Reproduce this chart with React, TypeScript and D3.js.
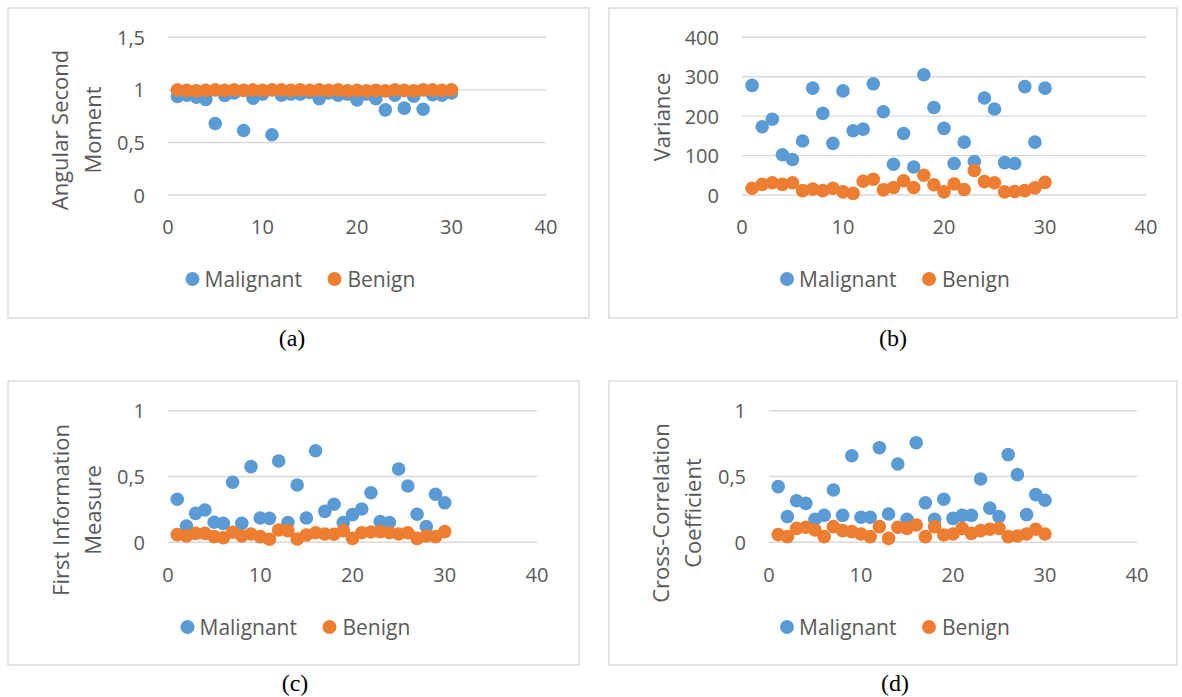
import React from "react";
import * as d3 from "d3";

// ---------- DATA ----------
const xValues = d3.range(1, 31);
const xTicks = [0, 10, 20, 30, 40];
const seriesNames = ["Malignant", "Benign"];

const asmMalignant = [0.937, 0.95, 0.93, 0.91, 0.68, 0.946, 0.97, 0.614, 0.92, 0.96, 0.573, 0.95, 0.96, 0.96, 0.975, 0.915, 0.97, 0.95, 0.96, 0.905, 0.96, 0.915, 0.81, 0.95, 0.826, 0.94, 0.816, 0.955, 0.95, 0.97];
const asmBenign = [1.0, 0.995, 0.99, 0.995, 1.0, 0.995, 1.0, 0.995, 1.0, 0.995, 1.0, 1.0, 0.995, 1.0, 0.995, 1.0, 0.995, 1.0, 0.99, 0.995, 0.99, 0.995, 0.99, 1.0, 0.995, 0.99, 1.0, 1.0, 0.995, 1.0];

const varMalignant = [278, 173, 192, 102, 90, 137, 271, 207, 131, 264, 163, 167, 282, 211, 78, 156, 71, 305, 222, 169, 80, 134, 85, 246, 218, 82, 80, 275, 134, 271];
const varBenign = [17, 27, 31, 27, 31, 11, 15, 11, 17, 8, 4, 35, 40, 13, 19, 36, 19, 50, 26, 8, 28, 14, 62, 34, 31, 8, 9, 11, 18, 32];

const fimMalignant = [0.327, 0.124, 0.22, 0.245, 0.152, 0.144, 0.456, 0.144, 0.575, 0.185, 0.182, 0.618, 0.15, 0.435, 0.185, 0.696, 0.235, 0.289, 0.15, 0.21, 0.253, 0.377, 0.157, 0.15, 0.557, 0.428, 0.213, 0.119, 0.365, 0.3];
const fimBenign = [0.058, 0.048, 0.068, 0.068, 0.043, 0.035, 0.076, 0.048, 0.063, 0.043, 0.023, 0.094, 0.089, 0.025, 0.056, 0.073, 0.063, 0.061, 0.089, 0.03, 0.073, 0.078, 0.081, 0.073, 0.063, 0.073, 0.03, 0.048, 0.043, 0.081];

const cccMalignant = [0.423, 0.195, 0.316, 0.296, 0.175, 0.205, 0.397, 0.205, 0.658, 0.19, 0.19, 0.719, 0.215, 0.595, 0.175, 0.757, 0.3, 0.175, 0.327, 0.182, 0.205, 0.205, 0.481, 0.26, 0.195, 0.666, 0.514, 0.21, 0.362, 0.32];
const cccBenign = [0.058, 0.043, 0.106, 0.114, 0.094, 0.043, 0.119, 0.089, 0.081, 0.063, 0.043, 0.119, 0.03, 0.114, 0.106, 0.132, 0.043, 0.119, 0.056, 0.063, 0.106, 0.068, 0.089, 0.099, 0.106, 0.043, 0.048, 0.063, 0.099, 0.063];

const yTicksA = [0, 0.5, 1, 1.5];
const yLabelsA = ["0", "0,5", "1", "1,5"];
const yTicksB = [0, 100, 200, 300, 400];
const yLabelsB = ["0", "100", "200", "300", "400"];
const yTicksCD = [0, 0.5, 1];
const yLabelsCD = ["0", "0,5", "1"];

// ---------- STYLE / LAYOUT ----------
const BLUE = "#5B9BD5";
const ORANGE = "#ED7D31";
const GRID = "#D9D9D9";
const TEXT = "#595959";
const FONT = "'Open Sans', sans-serif";

const panels = [
  {
    key: "a", mal: asmMalignant, ben: asmBenign, yDomain: [0, 1.5], yTicks: yTicksA, yLabels: yLabelsA,
    box: [8, 8, 589, 318], x0: 168, x1: 546, yTop: 37.3, yBot: 195,
    title: ["Angular Second", "Moment"], titleX: [59, 92], titleY: 130,
    xLabelY: 226, legendY: 279, caption: "(a)", capX: 292, capY: 338,
  },
  {
    key: "b", mal: varMalignant, ben: varBenign, yDomain: [0, 400], yTicks: yTicksB, yLabels: yLabelsB,
    box: [609, 8, 1177, 318], x0: 742, x1: 1146, yTop: 37.3, yBot: 195,
    title: ["Variance"], titleX: [661], titleY: 117,
    xLabelY: 226, legendY: 279, caption: "(b)", capX: 893, capY: 338,
  },
  {
    key: "c", mal: fimMalignant, ben: fimBenign, yDomain: [0, 1], yTicks: yTicksCD, yLabels: yLabelsCD,
    box: [8, 381, 579, 665], x0: 168, x1: 537, yTop: 410.7, yBot: 542.3,
    title: ["First Information", "Measure"], titleX: [60, 92], titleY: 510,
    xLabelY: 574, legendY: 627, caption: "(c)", capX: 295, capY: 683,
  },
  {
    key: "d", mal: cccMalignant, ben: cccBenign, yDomain: [0, 1], yTicks: yTicksCD, yLabels: yLabelsCD,
    box: [609, 381, 1177, 665], x0: 769, x1: 1137, yTop: 410.7, yBot: 542.3,
    title: ["Cross-Correlation", "Coefficient"], titleX: [660, 692], titleY: 513,
    xLabelY: 574, legendY: 627, caption: "(d)", capX: 895, capY: 683,
  },
];

const R = 6.8;

function Panel({ p }: { p: any }) {
  const x = d3.scaleLinear().domain([0, 40]).range([p.x0, p.x1]);
  const y = d3.scaleLinear().domain(p.yDomain).range([p.yBot, p.yTop]);
  const [bl, bt, br, bb] = p.box;
  const cx = (bl + br) / 2;
  const lx = cx - 106;
  return (
    <g>
      <rect x={bl} y={bt} width={br - bl} height={bb - bt} fill="#fff" stroke={GRID} strokeWidth={1.4} />
      {p.yTicks.map((t: number, i: number) => (
        <g key={"yt" + i}>
          <line x1={p.x0} x2={p.x1} y1={y(t)} y2={y(t)} stroke={GRID} strokeWidth={1.4} />
          <text x={p.x0 - 23} y={y(t)} textAnchor="end" dominantBaseline="central" fontSize={20} fill={TEXT} fontFamily={FONT}>
            {p.yLabels[i]}
          </text>
        </g>
      ))}
      {xTicks.map((t) => (
        <text key={"xt" + t} x={x(t)} y={p.xLabelY} textAnchor="middle" dominantBaseline="central" fontSize={20} fill={TEXT} fontFamily={FONT}>
          {t}
        </text>
      ))}
      {p.title.map((line: string, i: number) => (
        <text key={"ti" + i} transform={`translate(${p.titleX[i]},${p.titleY}) rotate(-90)`} textAnchor="middle" dominantBaseline="central" fontSize={22} fill={TEXT} fontFamily={FONT}>
          {line}
        </text>
      ))}
      {xValues.map((xv, i) => (
        <circle key={"m" + i} cx={x(xv)} cy={y(p.mal[i])} r={R} fill={BLUE} />
      ))}
      {xValues.map((xv, i) => (
        <circle key={"b" + i} cx={x(xv)} cy={y(p.ben[i])} r={R} fill={ORANGE} />
      ))}
      <circle cx={lx} cy={p.legendY} r={7} fill={BLUE} />
      <text x={lx + 12} y={p.legendY} dominantBaseline="central" fontSize={21} fill={TEXT} fontFamily={FONT}>{seriesNames[0]}</text>
      <circle cx={lx + 142} cy={p.legendY} r={7} fill={ORANGE} />
      <text x={lx + 155} y={p.legendY} dominantBaseline="central" fontSize={21} fill={TEXT} fontFamily={FONT}>{seriesNames[1]}</text>
      <text x={p.capX} y={p.capY} textAnchor="middle" dominantBaseline="central" fontSize={24} fill="#000" fontFamily="'Liberation Serif', 'Times New Roman', serif">
        {p.caption}
      </text>
    </g>
  );
}

export default function App() {
  return (
    <svg width={1182} height={697} style={{ position: "absolute", left: 0, top: 0, background: "#fff" }}>
      <rect x={0} y={0} width={1182} height={697} fill="#fff" />
      {panels.map((p) => (
        <Panel key={p.key} p={p} />
      ))}
    </svg>
  );
}
